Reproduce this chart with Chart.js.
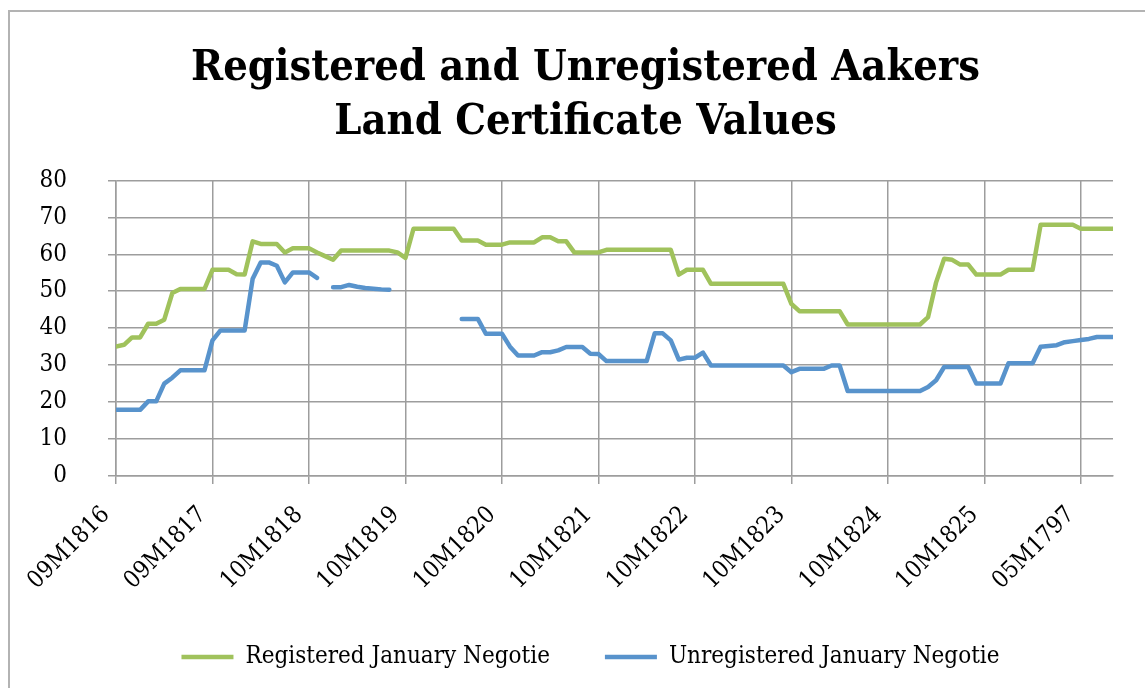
<!DOCTYPE html>
<html>
<head>
<meta charset="utf-8">
<script src="https://cdn.jsdelivr.net/npm/chart.js@4.4.1/dist/chart.umd.min.js"></script>
<style>
  html, body { margin: 0; padding: 0; background: #fff; }
  #wrap { position: relative; width: 1145px; height: 688px; overflow: hidden; }
  #frame { position: absolute; left: 8px; top: 10px; width: 1200px; height: 700px; border: 2px solid #b3b3b3; box-sizing: border-box; }
  canvas { position: absolute; left: 0; top: 0; }
</style>
</head>
<body>
<div id="wrap">
  <div id="frame"></div>
  <canvas id="chart" width="1145" height="688"></canvas>
</div>
<script>
// tick labels, one every 12 observations
const tickLabels = ["09M1816", "09M1817", "10M1818", "10M1819", "10M1820", "10M1821",
                    "10M1822", "10M1823", "10M1824", "10M1825", "05M1797"]
const stepPerLabel = 12

// Registered January Negotie
const registered = [
  35, 35.5, 37.5, 37.5, 41.2, 41.2, 42.3, 49.5, 50.6, 50.6, 50.6, 50.6,
  55.8, 55.8, 55.8, 54.6, 54.5, 63.5, 62.8, 62.8, 62.8, 60.5, 61.6, 61.6,
  61.6, 60.5, 59.5, 58.5, 61, 61, 61, 61, 61, 61, 61, 60.5,
  59, 66.9, 66.9, 66.9, 66.9, 66.9, 66.9, 63.7, 63.7, 63.7, 62.6, 62.6,
  62.6, 63.2, 63.2, 63.2, 63.2, 64.6, 64.6, 63.5, 63.5, 60.5, 60.5, 60.5,
  60.5, 61.2, 61.2, 61.2, 61.2, 61.2, 61.2, 61.2, 61.2, 61.2, 54.5, 55.8,
  55.8, 55.8, 52, 52, 52, 52, 52, 52, 52, 52, 52, 52,
  46.6, 44.6, 44.6, 44.6, 44.6, 44.6, 44.6, 41, 41, 41, 41, 41,
  41, 41, 41, 41, 41, 43, 52.4, 58.8, 58.5, 57.2, 57.2, 54.5,
  54.5, 54.5, 54.5, 55.8, 55.8, 55.8, 55.8, 68, 68, 68, 68, 68,
  66.9, 66.9, 66.9, 66.9, 66.9
]

// Unregistered January Negotie (null = no value)
const unregistered = [
  17.9, 17.9, 17.9, 17.9, 20.2, 20.2, 25, 26.6, 28.6, 28.6, 28.6, 28.6,
  36.7, 39.4, 39.4, 39.4, 39.4, 53.4, 57.8, 57.8, 56.9, 52.4, 55.1, 55.1,
  55.1, 53.6, null, 51.1, 51.1, 51.7, 51.2, 50.9, 50.7, 50.5, 50.4, null,
  null, null, null, null, null, null, null, 42.5, 42.5, 42.5, 38.5, 38.5,
  38.5, 35, 32.6, 32.6, 32.6, 33.5, 33.5, 34, 34.9, 34.9, 34.9, 33.1,
  33, 31.1, 31.1, 31.1, 31.1, 31.1, 31.1, 38.6, 38.6, 36.7, 31.5, 32,
  32, 33.4, 29.9, 29.9, 29.9, 29.9, 29.9, 29.9, 29.9, 29.9, 29.9, 29.9,
  28.1, 29, 29, 29, 29, 29.9, 29.9, 23, 23, 23, 23, 23,
  23, 23, 23, 23, 23, 24.1, 25.9, 29.5, 29.5, 29.5, 29.5, 25,
  25, 25, 25, 30.5, 30.5, 30.5, 30.5, 35, 35.2, 35.4, 36.2, 36.5,
  36.8, 37.1, 37.6, 37.6, 37.6
]

const GREEN = "rgb(160, 194, 92)"
const BLUE = "rgb(88, 147, 204)"
const GRID = "#9d9d9d"
const SERIF = "'DejaVu Serif Condensed', 'Liberation Serif', serif"

const toPoints = arr => arr.map((v, i) => ({ x: i, y: v }))

// title and legend sit a little right of the canvas centre in the original
const shiftBlocks = {
  id: "shiftBlocks",
  afterLayout(chart) {
    const move = (box, dx) => { if (box) { box.left += dx; box.right += dx } }
    move(chart.titleBlock, 14)
    move(chart.legend, 19)
  }
}

const ctx = document.getElementById("chart").getContext("2d")

new Chart(ctx, {
  type: "line",
  data: {
    datasets: [
      {
        label: "Registered January Negotie",
        data: toPoints(registered),
        borderColor: GREEN,
        backgroundColor: GREEN,
        borderWidth: 4.5,
        pointRadius: 0,
        pointStyle: "line",
        tension: 0,
        spanGaps: false,
        borderCapStyle: "round",
        borderJoinStyle: "round"
      },
      {
        label: "Unregistered January Negotie",
        data: toPoints(unregistered),
        borderColor: BLUE,
        backgroundColor: BLUE,
        borderWidth: 4.5,
        pointRadius: 0,
        pointStyle: "line",
        tension: 0,
        spanGaps: false,
        borderCapStyle: "round",
        borderJoinStyle: "round"
      }
    ]
  },
  plugins: [shiftBlocks],
  options: {
    responsive: false,
    animation: false,
    layout: {
      padding: { top: 11, right: 32, bottom: 9, left: 30 }
    },
    plugins: {
      title: {
        display: true,
        text: ["Registered and Unregistered Aakers", "Land Certificate Values"],
        color: "#000",
        font: { family: SERIF, size: 43, weight: "bold", lineHeight: 1.26 },
        padding: { top: 31, bottom: 30 }
      },
      legend: {
        display: true,
        position: "bottom",
        labels: {
          color: "#000",
          font: { family: SERIF, size: 24 },
          usePointStyle: true,
          pointStyle: "line",
          pointStyleWidth: 52,
          boxHeight: 24,
          padding: 55
        }
      },
      tooltip: { enabled: false }
    },
    scales: {
      x: {
        type: "linear",
        min: 0,
        max: registered.length - 1,
        afterFit: scale => { scale.height = 114 },
        border: { color: GRID, width: 1.5 },
        grid: { color: GRID, lineWidth: 1.5, tickLength: 8 },
        ticks: {
          stepSize: stepPerLabel,
          includeBounds: false,
          autoSkip: false,
          maxRotation: 45,
          minRotation: 45,
          padding: 17,
          labelOffset: -10,
          color: "#000",
          font: { family: SERIF, size: 24 },
          callback: value => tickLabels[value / stepPerLabel] ?? ""
        }
      },
      y: {
        min: 0,
        max: 80,
        afterFit: scale => { scale.width = 86 },
        border: { color: GRID, width: 1.5 },
        grid: { color: GRID, lineWidth: 1.5, tickLength: 8 },
        ticks: {
          stepSize: 10,
          padding: 41,
          color: "#000",
          font: { family: SERIF, size: 24 }
        }
      }
    }
  }
})
</script>
</body>
</html>
